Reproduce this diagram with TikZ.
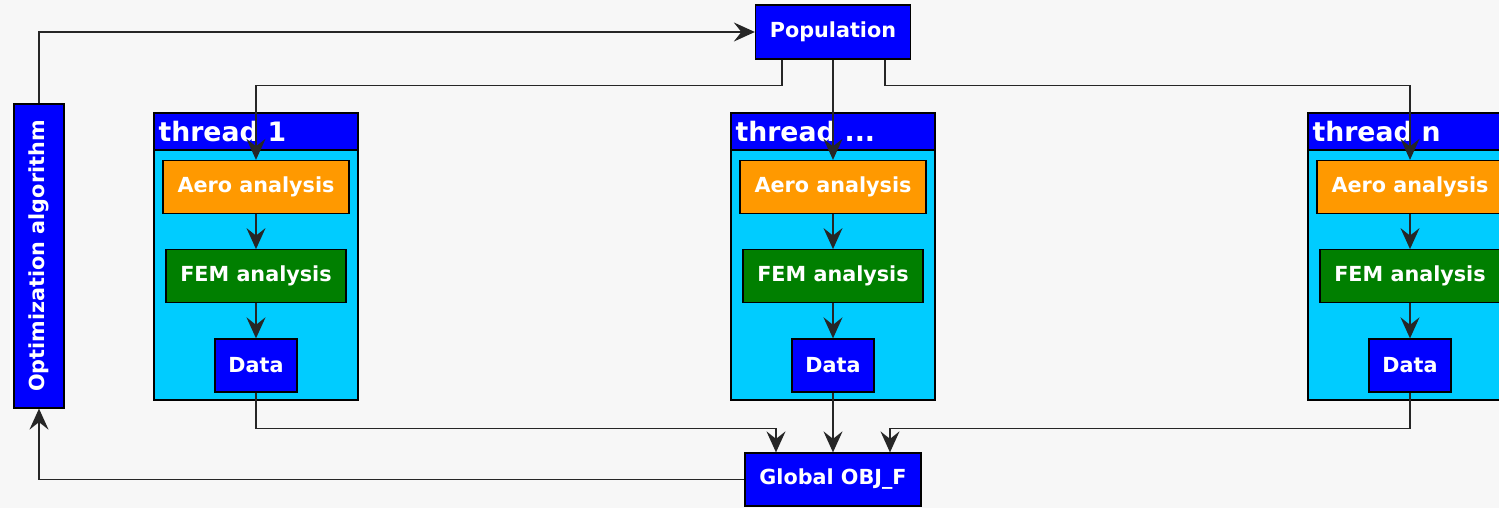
\documentclass[tikz,border=0pt]{standalone}
\usepackage{fontspec}
\setmainfont{DejaVu Sans}
\usepackage{graphicx}
\usetikzlibrary{arrows.meta}
\usetikzlibrary{positioning}

\definecolor{bgcol}{HTML}{F7F7F7}
\definecolor{popblue}{HTML}{0000FF}
\definecolor{aerocol}{HTML}{FF9900}
\definecolor{femcol}{HTML}{007F00}
\definecolor{threadcol}{HTML}{00CCFF}
\definecolor{linecol}{HTML}{262626}

\tikzset{
    box/.style={draw=black, line width=0.7pt, text=white, inner sep=0pt,
        font=\bfseries\fontsize{11.8}{14}\selectfont, minimum height=1.06cm},
    bluebox/.style={box, fill=popblue},
    aero/.style={box, fill=aerocol, minimum width=3.72cm},
    fem/.style={box, fill=femcol, minimum width=3.6cm},
    databox/.style={bluebox, minimum width=1.64cm},
    threadbox/.style={draw=black, line width=0.7pt, fill=threadcol,
        minimum width=4.08cm, minimum height=5.74cm, inner sep=0pt},
    threadhead/.style={draw=black, line width=0.7pt, fill=popblue, text=white,
        font=\bfseries\fontsize{15.2}{18}\selectfont, minimum height=0.74cm,
        text width=3.9cm, inner xsep=0.09cm, inner ysep=0pt, align=left},
    arr/.style={draw=linecol, line width=1pt,
        -{Stealth[length=0.42cm, width=0.38cm, inset=0.15cm]}},
}

\begin{document}
\begin{tikzpicture}
        \fill[bgcol] (0,0) rectangle (29.98,-10.16);
        \useasboundingbox (0,0) rectangle (29.98,-10.16);

        \node[bluebox, minimum width=3.1cm, minimum height=1.08cm] (pop) at (16.66,-0.64) {Population};
        \node[bluebox, minimum width=1cm, minimum height=6.08cm] (opt) at (0.78,-5.12) {\rotatebox{90}{Optimization algorithm}};
        \node[bluebox, minimum width=3.52cm] (glob) at (16.66,-9.59) {Global OBJ\_F};

        % thread 1
        \node[threadbox] (th1) at (5.12,-5.13) {};
        \node[threadhead, anchor=north] (th1h) at (th1.north) {thread 1};
        \node[aero] (aero1) at (5.12,-3.74) {Aero analysis};
        \node[fem, below=0.7cm of aero1] (fem1) {FEM analysis};
        \node[databox, below=0.7cm of fem1] (data1) {Data};

        % thread ...
        \node[threadbox] (th2) at (16.66,-5.13) {};
        \node[threadhead, anchor=north] (th2h) at (th2.north) {thread ...};
        \node[aero] (aero2) at (16.66,-3.74) {Aero analysis};
        \node[fem, below=0.7cm of aero2] (fem2) {FEM analysis};
        \node[databox, below=0.7cm of fem2] (data2) {Data};

        % thread n
        \node[threadbox] (th3) at (28.2,-5.13) {};
        \node[threadhead, anchor=north] (th3h) at (th3.north) {thread n};
        \node[aero] (aero3) at (28.2,-3.74) {Aero analysis};
        \node[fem, below=0.7cm of aero3] (fem3) {FEM analysis};
        \node[databox, below=0.7cm of fem3] (data3) {Data};

        \path[arr] (opt.north) |- (pop.west);
        \path[arr] ([xshift=-1.02cm]pop.south) -- ++(0,-0.52) -| (aero1.north);
        \path[arr] (pop.south) -- (aero2.north);
        \path[arr] ([xshift=1.04cm]pop.south) -- ++(0,-0.52) -| (aero3.north);

        \path[arr] (aero1) -- (fem1);
        \path[arr] (fem1) -- (data1);
        \path[arr] (aero2) -- (fem2);
        \path[arr] (fem2) -- (data2);
        \path[arr] (aero3) -- (fem3);
        \path[arr] (fem3) -- (data3);

        \path[arr] (data1.south) -- ++(0,-0.72) -| ([xshift=-1.14cm]glob.north);
        \path[arr] (data2.south) -- (glob.north);
        \path[arr] (data3.south) -- ++(0,-0.72) -| ([xshift=1.14cm]glob.north);

        \path[arr] (glob.west) -| (opt.south);
    \end{tikzpicture}
\end{document}
